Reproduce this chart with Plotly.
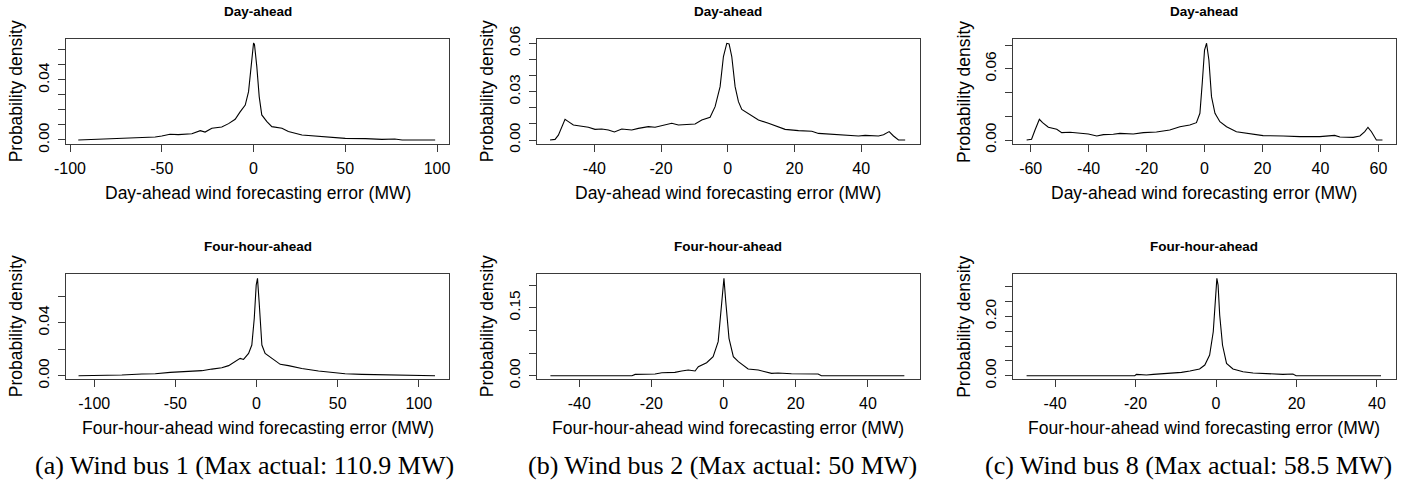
import plotly.graph_objects as go

W, H = 1414, 487

# ---------------- data ----------------
bus1_da_x = [-95.5, -81, -70, -59, -53.6, -50, -45.5, -41, -33.6, -29, -26.4, -22.7, -17.3, -13.6, -10, -7.3, -4.5, -2.7, -1.3, 0, 0.5, 1.8, 3.1, 4.5, 7.3, 10, 15.5, 19, 26.4, 33.6, 41, 50, 61, 70, 77, 81, 99]
bus1_da_y = [0, 0.0007, 0.0009, 0.0016, 0.002, 0.0027, 0.0038, 0.0036, 0.0042, 0.0062, 0.0053, 0.0078, 0.0087, 0.0109, 0.0138, 0.0187, 0.0233, 0.0322, 0.0467, 0.0644, 0.064, 0.0489, 0.0289, 0.0167, 0.0122, 0.0089, 0.0078, 0.0056, 0.0033, 0.0027, 0.0016, 0.0011, 0.0009, 0.0004, 0.0007, 0, 0]

bus2_da_x = [-53.3, -51.8, -50.8, -49.8, -48.8, -47.8, -46.3, -44.3, -41.8, -39.8, -37.8, -35.8, -34, -31.8, -28.8, -26.8, -23.8, -21.8, -19.8, -16.8, -14.8, -11.8, -9.8, -7.8, -5.3, -3.8, -2.3, -1.3, -0.3, 0.4, 1.2, 2.2, 3.2, 4.2, 7.2, 9.2, 12.2, 15.2, 17.2, 21.2, 25.2, 27.2, 33.2, 39.2, 41.2, 45.2, 46.7, 48.4, 49.7, 51.2, 53.2]
bus2_da_y = [0, 0.0004, 0.003, 0.0083, 0.0128, 0.0114, 0.0093, 0.0087, 0.0079, 0.0066, 0.0068, 0.0062, 0.005, 0.0068, 0.0062, 0.0072, 0.0083, 0.0079, 0.0089, 0.0104, 0.0093, 0.0097, 0.0099, 0.0124, 0.0141, 0.0207, 0.0331, 0.0518, 0.06, 0.0596, 0.0518, 0.0331, 0.0238, 0.019, 0.0149, 0.0124, 0.0104, 0.0079, 0.0066, 0.0058, 0.0054, 0.0041, 0.0031, 0.0025, 0.0029, 0.0025, 0.0033, 0.0052, 0.0025, 0, 0]

bus8_da_x = [-61.4, -59.7, -58.5, -57, -55.9, -53.9, -51, -49.3, -46.4, -43, -40.1, -37.2, -34.9, -31.5, -29.2, -24.6, -21.1, -16.6, -12, -8.5, -5.1, -2.8, -1.6, -0.8, 0, 0.7, 1.5, 2.4, 3.6, 5.3, 7.6, 11, 15.6, 20.2, 27.1, 32.9, 39.8, 44.4, 44.9, 46.7, 51.3, 53.6, 55.3, 56.4, 57.6, 59.3, 61.4]
bus8_da_y = [0, 0.0006, 0.0084, 0.0174, 0.0146, 0.0107, 0.009, 0.0062, 0.0065, 0.0056, 0.0051, 0.0034, 0.0045, 0.0048, 0.0056, 0.0051, 0.0062, 0.0067, 0.0084, 0.0112, 0.0126, 0.0146, 0.0225, 0.0478, 0.0758, 0.0815, 0.0674, 0.0365, 0.0225, 0.0154, 0.0112, 0.007, 0.0051, 0.0037, 0.0034, 0.0028, 0.0028, 0.0034, 0.0039, 0.0025, 0.0022, 0.0034, 0.007, 0.0107, 0.007, 0, 0]

bus1_4h_x = [-109.7, -93.2, -83, -70.6, -62.4, -53.2, -41.9, -33.7, -27.5, -21.4, -17.2, -13.1, -10.1, -8, -4.9, -2.9, -1.4, -0.2, 0.6, 1.6, 3.3, 5.3, 9.4, 14.6, 19.7, 27.9, 38.2, 46.4, 54.6, 64.9, 77.2, 89.5, 97.7, 110]
bus1_4h_y = [0, 0, 0.0005, 0.0013, 0.0015, 0.0025, 0.0033, 0.0038, 0.005, 0.006, 0.0076, 0.0106, 0.0131, 0.0123, 0.0169, 0.0232, 0.0433, 0.0685, 0.0736, 0.0559, 0.0232, 0.0169, 0.0131, 0.0086, 0.0076, 0.0055, 0.0035, 0.0023, 0.0015, 0.001, 0.0008, 0.0005, 0.0003, 0]

bus2_4h_x = [-48, -25.4, -24.5, -19, -17.1, -13.5, -11.6, -9.8, -7.9, -7, -4.7, -2.9, -1.5, -0.6, 0.1, 0.6, 1.5, 2.7, 4.1, 6.8, 9.6, 13.3, 15.1, 18.8, 26.2, 27.1, 50.1]
bus2_4h_y = [0, 0, 0.0029, 0.0037, 0.0066, 0.0074, 0.0103, 0.0125, 0.0103, 0.0199, 0.0287, 0.042, 0.0751, 0.1487, 0.215, 0.1635, 0.0825, 0.042, 0.0309, 0.0147, 0.0125, 0.0052, 0.0059, 0.0044, 0.0037, 0, 0]

bus8_4h_x = [-47.1, -20.2, -19.8, -17.3, -15.6, -11.5, -8.6, -6.5, -4.1, -2.8, -1.6, -0.7, -0.2, 0.2, 0.5, 0.9, 1.6, 2.6, 4.2, 6.7, 9.2, 12.5, 16.6, 19.1, 19.9, 41]
bus8_4h_y = [0, 0, 0.0045, 0.0022, 0.0045, 0.0079, 0.0112, 0.0157, 0.0225, 0.036, 0.0697, 0.1483, 0.2607, 0.3281, 0.3056, 0.2045, 0.1034, 0.0416, 0.0225, 0.0135, 0.009, 0.0067, 0.0045, 0.0056, 0, 0]

row_titles = ["Day-ahead", "Four-hour-ahead"]
x_titles = ["Day-ahead wind forecasting error (MW)", "Four-hour-ahead wind forecasting error (MW)"]
y_title = "Probability density"
captions = ["(a) Wind bus 1 (Max actual: 110.9 MW)", "(b) Wind bus 2 (Max actual: 50 MW)", "(c) Wind bus 8 (Max actual: 58.5 MW)"]

# tick values and labels per panel
p1_xt = [-100, -50, 0, 50, 100]
p1_yt = [0, 0.01, 0.02, 0.03, 0.04, 0.05, 0.06]
p1_yl = ["0.00", "", "", "", "0.04", "", ""]
p2_xt = [-40, -20, 0, 20, 40]
p2_yt = [0, 0.01, 0.02, 0.03, 0.04, 0.05, 0.06]
p2_yl = ["0.00", "", "", "0.03", "", "", "0.06"]
p3_xt = [-60, -40, -20, 0, 20, 40, 60]
p3_yt = [0, 0.02, 0.04, 0.06, 0.08]
p3_yl = ["0.00", "", "", "0.06", ""]
p4_xt = [-100, -50, 0, 50, 100]
p4_yt = [0, 0.02, 0.04, 0.06]
p4_yl = ["0.00", "", "0.04", ""]
p5_xt = [-40, -20, 0, 20, 40]
p5_yt = [0, 0.05, 0.10, 0.15, 0.20]
p5_yl = ["0.00", "", "", "0.15", ""]
p6_xt = [-40, -20, 0, 20, 40]
p6_yt = [0, 0.05, 0.10, 0.15, 0.20, 0.25, 0.30]
p6_yl = ["0.00", "", "", "", "0.20", "", ""]

# ---------------- layout geometry (pixels) ----------------
cols = [(65.7, 449.3), (536.7, 919.5), (1013.3, 1395.5)]
rows = [(39.3, 144.0), (274.0, 379.0)]

panels = [
    dict(x=bus1_da_x, y=bus1_da_y, xr=[-102.35, 106.7], yr=[-0.00267, 0.0671], xt=p1_xt, yt=p1_yt, yl=p1_yl, r=0, c=0),
    dict(x=bus2_da_x, y=bus2_da_y, xr=[-57.3, 57.5], yr=[-0.00248, 0.0625], xt=p2_xt, yt=p2_yt, yl=p2_yl, r=0, c=1),
    dict(x=bus8_da_x, y=bus8_da_y, xr=[-66.0, 65.9], yr=[-0.00337, 0.0848], xt=p3_xt, yt=p3_yt, yl=p3_yl, r=0, c=2),
    dict(x=bus1_4h_x, y=bus1_4h_y, xr=[-117.6, 118.8], yr=[-0.0025, 0.0769], xt=p4_xt, yt=p4_yt, yl=p4_yl, r=1, c=0),
    dict(x=bus2_4h_x, y=bus2_4h_y, xr=[-51.8, 54.3], yr=[-0.0073, 0.2243], xt=p5_xt, yt=p5_yt, yl=p5_yl, r=1, c=1),
    dict(x=bus8_4h_x, y=bus8_4h_y, xr=[-50.4, 44.6], yr=[-0.0111, 0.3428], xt=p6_xt, yt=p6_yt, yl=p6_yl, r=1, c=2),
]

def px(x):
    return x / W

def py(y):
    return 1 - y / H

SANS = "Liberation Sans, Arial, sans-serif"
SERIF = "Liberation Serif, Times New Roman, serif"
AXC = "#3a3a3a"

fig = go.Figure()
layout = dict(
    width=W, height=H, autosize=False,
    margin=dict(l=0, r=0, t=0, b=0, pad=0, autoexpand=False),
    paper_bgcolor="white", plot_bgcolor="white", showlegend=False,
    font=dict(family=SANS, color="black"),
)
annotations = []

for i, p in enumerate(panels):
    n = "" if i == 0 else str(i + 1)
    x0, x1 = cols[p["c"]]
    y0, y1 = rows[p["r"]]
    fig.add_trace(go.Scatter(x=p["x"], y=p["y"], mode="lines",
                             line=dict(color="black", width=1.1),
                             xaxis="x" + n, yaxis="y" + n, hoverinfo="skip"))
    layout["xaxis" + n] = dict(
        domain=[px(x0), px(x1)], range=p["xr"], anchor="y" + n, automargin=False,
        tickmode="array", tickvals=p["xt"], ticktext=[str(v) for v in p["xt"]],
        ticks="outside", ticklen=7, tickcolor=AXC, tickwidth=1,
        showline=True, linecolor=AXC, linewidth=1, mirror=True,
        showgrid=False, zeroline=False, tickfont=dict(size=16, family=SANS, color="black"),
        ticklabelstandoff=3,
    )
    layout["yaxis" + n] = dict(
        domain=[py(y1), py(y0)], range=p["yr"], anchor="x" + n, automargin=False,
        tickmode="array", tickvals=p["yt"], ticktext=p["yl"],
        ticks="outside", ticklen=7, tickcolor=AXC, tickwidth=1,
        showline=True, linecolor=AXC, linewidth=1, mirror=True,
        showgrid=False, zeroline=False, tickangle=-90,
        tickfont=dict(size=15.5, family=SANS, color="black"),
        ticklabelstandoff=3,
    )
    cx = (x0 + x1) / 2
    # panel title
    annotations.append(dict(text="<b>" + row_titles[p["r"]] + "</b>", x=px(cx), y=py(y0 - 27.5),
                            xref="paper", yref="paper", showarrow=False,
                            xanchor="center", yanchor="middle", font=dict(size=13.5, family=SANS)))
    # x-axis title
    annotations.append(dict(text=x_titles[p["r"]], x=px(cx), y=py(y1 + 49),
                            xref="paper", yref="paper", showarrow=False,
                            xanchor="center", yanchor="middle", font=dict(size=17.5, family=SANS)))
    # y-axis title
    annotations.append(dict(text=y_title, x=px(x0 - 50), y=py((y0 + y1) / 2),
                            xref="paper", yref="paper", showarrow=False, textangle=-90,
                            xanchor="center", yanchor="middle", font=dict(size=17.5, family=SANS)))

cap_x = [245, 722.5, 1188]
for c, t in enumerate(captions):
    annotations.append(dict(text=t, x=px(cap_x[c]), y=py(465), xref="paper", yref="paper",
                            showarrow=False, xanchor="center", yanchor="middle",
                            font=dict(size=26, family=SERIF, color="black")))

layout["annotations"] = annotations
fig.update_layout(**layout)
fig.write_html("out.html")
